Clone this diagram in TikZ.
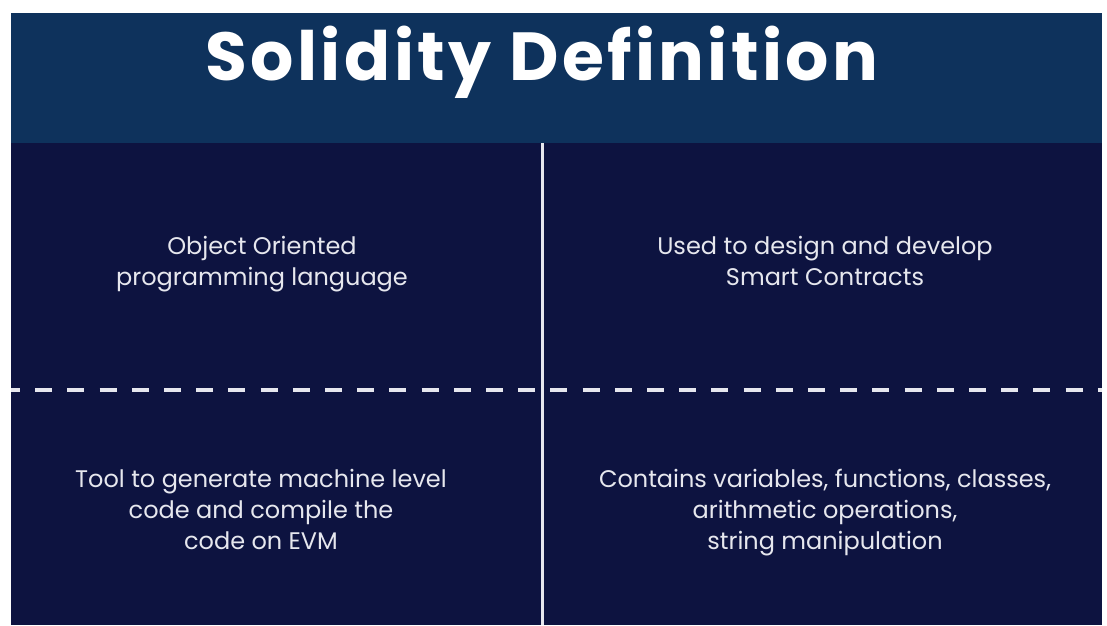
\documentclass[tikz,border=0pt]{standalone}
\usepackage{fontspec}
\setmainfont{Poppins}
\newfontfamily\titlefont[LetterSpace=5]{Poppins}
\usetikzlibrary{positioning}
\definecolor{headblue}{HTML}{0E325C}
\definecolor{bodyblue}{HTML}{0D1340}
\definecolor{softwhite}{HTML}{E6E7EE}
\tikzset{
  head_txt/.style = {anchor=base, text=white, inner sep=0pt,
    font=\titlefont\fontsize{68}{68}\selectfont\bfseries},
  cell_txt/.style = {align=center, anchor=north, inner sep=0pt, text=softwhite,
    font=\fontsize{24}{31.4}\selectfont}
}

\begin{document}
\begin{tikzpicture}[x=1pt,y=-1pt]
\useasboundingbox (0,0) rectangle (1107,625);
% panels
\fill[headblue] (11,13) rectangle (1102,143);
\fill[bodyblue] (11,143) rectangle (1102,625);
% dividers
\draw[softwhite, line width=3pt] (542.5,143) -- (542.5,625);
\draw[softwhite, line width=4pt, dash pattern=on 17pt off 15.2pt, dash phase=8pt]
  (11,390) -- (1102,390);
\node [head_txt] (title) at (542,80) {Solidity Definition};
\node [cell_txt] (oop) at (262,232) {\strut Object Oriented\\programming language};
\node [cell_txt] (use) at (825,232) {\strut Used to design and develop\\Smart Contracts};
\node [cell_txt] (tool) at (261,465) {\strut Tool to generate machine level\\code and compile the\\code on EVM};
\node [cell_txt] (parts) at (825,465) {\strut Contains variables, functions, classes,\\arithmetic operations,\\string manipulation};
\end{tikzpicture}
\end{document}
